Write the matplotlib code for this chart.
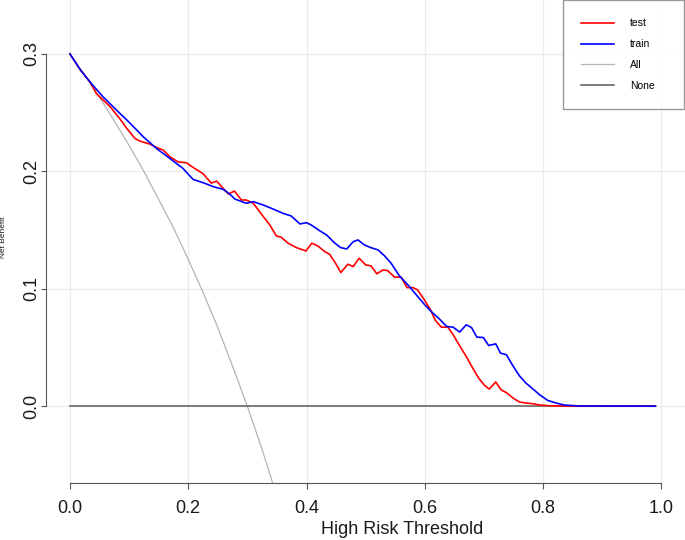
import matplotlib
matplotlib.use('Agg')
import matplotlib.pyplot as plt

plt.rcParams['font.family'] = ['Liberation Sans', 'DejaVu Sans']

# net benefit curves
t_test = [0, .017, .034, .045, .068, .084, .096, .110, .118, .135, .146, .158, .169, .183,
          .197, .208, .225, .239, .248, .259, .268, .278, .290, .298, .310, .324, .338, .349,
          .357, .369, .383, .399, .409, .419, .431, .439, .449, .458, .470, .479, .489, .500,
          .509, .519, .529, .537, .549, .560, .570, .580, .588, .600, .609, .618, .628, .639,
          .648, .659, .670, .681, .691, .701, .709, .720, .729, .739, .749, .760, .771, .783,
          .794, .811, .845, .99]
nb_test = [.3, .2868, .276, .266, .255, .245, .2366, .228, .2258, .2232, .2204, .218, .2124, .208,
           .2073, .2034, .198, .190, .1917, .1855, .1807, .1832, .1756, .1756, .1728, .1634, .1543, .145,
           .1439, .1388, .135, .1322, .1388, .1365, .1316, .1294, .1218, .1138, .1209, .1189, .126, .1203,
           .1195, .1127, .116, .1155, .1099, .1099, .101, .101, .099, .090, .0826, .073, .0673, .0673,
           .0608, .0514, .0424, .0325, .024, .0177, .0146, .0206, .014, .0112, .007, .0036, .0027, .0021,
           .001, .0004, 0, 0]

t_train = [0, .017, .034, .056, .079, .101, .124, .146, .169, .191, .208, .228, .242, .259, .270,
           .279, .298, .310, .327, .343, .360, .374, .389, .400, .408, .422, .434, .448, .458,
           .468, .479, .487, .498, .509, .521, .532, .543, .557, .574, .588, .600, .611, .625,
           .637, .648, .659, .670, .679, .688, .699, .708, .720, .728, .738, .749, .760, .771,
           .783, .794, .808, .822, .836, .86, .99]
nb_train = [.3, .2868, .276, .2634, .252, .2413, .2294, .2196, .211, .2025, .1932, .1898, .187, .1847, .1807,
            .1764, .1728, .1742, .1713, .168, .1643, .162, .1552, .1563, .1543, .1495, .1458, .1388, .135,
            .1339, .1401, .1416, .1373, .135, .1331, .128, .1218, .111, .1019, .0934, .0863, .0806, .0741,
            .0679, .0673, .0631, .0693, .067, .0588, .0585, .0517, .0531, .0452, .0438, .0344, .0259, .0197,
            .0146, .0098, .0049, .0027, .001, .0002, 0]

t_all = [0, .025, .05, .075, .1, .125, .15, .175, .2, .225, .25, .275, .3, .325, .35]
nb_all = [.3, .282, .263, .243, .222, .2, .176, .152, .125, .097, .067, .034, 0, -.037, -.077]

t_none = [0, .99]
nb_none = [0, 0]

xticks = [0.0, 0.2, 0.4, 0.6, 0.8, 1.0]
yticks = [0.0, 0.1, 0.2, 0.3]

fig = plt.figure(figsize=(6.85, 5.4), dpi=100)
ax = fig.add_axes([46.3 / 685, 57 / 540, 1 - 46.3 / 685, 483 / 540])

ax.plot(t_all, nb_all, color='#b4b4b4', lw=0.9, label='All')
ax.plot(t_none, nb_none, color='#5a5a5a', lw=1.1, label='None')
ax.plot(t_test, nb_test, color='#ff0000', lw=1.2, label='test')
ax.plot(t_train, nb_train, color='#0000ff', lw=1.2, label='train')

ax.set_xlim(-0.04, 1.04)
ax.set_ylim(-0.0654, 0.3459)

ax.set_xticks(xticks)
ax.set_yticks(yticks)
ax.set_xticklabels(['%.1f' % v for v in xticks])
ax.set_yticklabels(['%.1f' % v for v in yticks], rotation=90, va='center')
ax.tick_params(axis='x', length=4, width=0.8, color='#555555', pad=8, labelsize=13, labelcolor='#1a1a1a')
ax.tick_params(axis='y', length=3.6, width=0.8, color='#555555', pad=0.4, labelsize=13, labelcolor='#1a1a1a')

for s in ['top', 'right']:
    ax.spines[s].set_visible(False)
ax.spines['left'].set_bounds(0, 0.3)
ax.spines['bottom'].set_bounds(0, 1)
for s in ['left', 'bottom']:
    ax.spines[s].set_color('#555555')
    ax.spines[s].set_linewidth(0.8)

ax.grid(True, color='#ececec', lw=0.9)
ax.set_axisbelow(True)

ax.set_xlabel('High Risk Threshold', fontsize=13, color='#1a1a1a', va='center')
ax.xaxis.set_label_coords((402 - 46.3) / 638.7, -47 / 483)
ax.set_ylabel('Net Benefit', fontsize=6, color='#1a1a1a', va='center', ha='center')
ax.yaxis.set_label_coords(-42.3 / 638.7, (483 - 237) / 483)

handles, labels = ax.get_legend_handles_labels()
order = [2, 3, 0, 1]
leg = ax.legend([handles[i] for i in order], [labels[i] for i in order],
                loc='upper left', bbox_to_anchor=(563 / 685, 0, 121 / 685, 1),
                bbox_transform=fig.transFigure, mode='expand',
                fontsize=7.5, frameon=True, fancybox=False, edgecolor='#808080',
                handlelength=3.1, handletextpad=1.6, labelspacing=1.05,
                borderpad=1.75, borderaxespad=0)
leg.get_frame().set_linewidth(1.0)

fig.savefig('out.png', dpi=100)
